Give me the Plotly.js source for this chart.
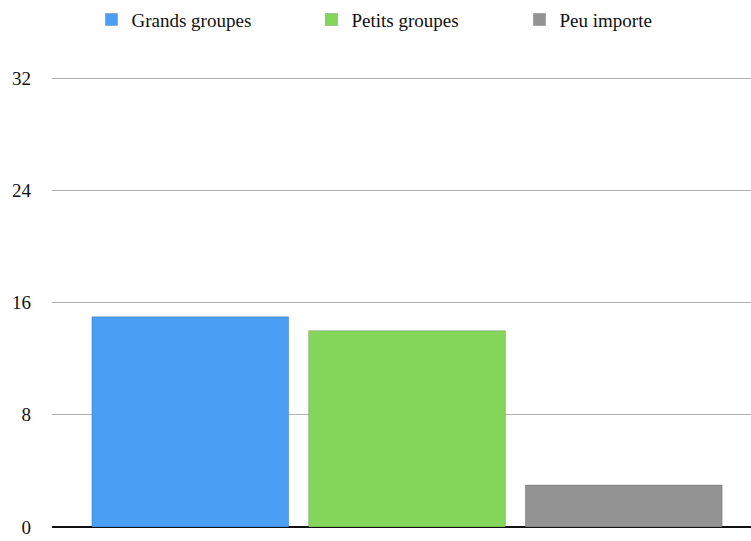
<!DOCTYPE html>
<html>
<head>
<meta charset="utf-8">
<script src="https://cdn.plot.ly/plotly-3.0.1.min.js"></script>
<style>html,body{margin:0;padding:0;background:#fff;}#chart{width:751px;height:541px;}</style>
</head>
<body>
<div id="chart"></div>
<script>
const seriesNames = ["Grands groupes", "Petits groupes", "Peu importe"];
const seriesValues = [15, 14, 3];
const seriesColors = ["#4a9ff5", "#84d65a", "#939393"];
const yTicks = [0, 8, 16, 24, 32];

const legendIds = ["legend", "legend2", "legend3"];
const legendX = [0.0565, 0.3712, 0.6688];

const traces = seriesNames.map((name, i) => ({
  type: "bar",
  name: name,
  x: [0],
  y: [seriesValues[i]],
  legend: legendIds[i],
  marker: {color: seriesColors[i], line: {color: "rgba(0,0,0,0.18)", width: 1}},
  hoverinfo: "none"
}));

const serif = "Liberation Serif";
const legendFont = {family: serif, size: 19, color: "#111"};
const layout = {
  width: 751, height: 541,
  margin: {l: 52, r: 0, t: 74, b: 14},
  paper_bgcolor: "#fff", plot_bgcolor: "#fff",
  font: {family: serif, size: 19, color: "#111"},
  barmode: "group",
  bargap: 0,
  bargroupgap: 0.092,
  showlegend: true,
  xaxis: {range: [-0.546, 0.529], showticklabels: false, showgrid: false, zeroline: false, showline: false, fixedrange: true},
  yaxis: {range: [0, 32.3], tickvals: yTicks, ticktext: yTicks.map(String), showgrid: true, gridcolor: "#b3b3b3", gridwidth: 1,
          zeroline: true, zerolinecolor: "#111", zerolinewidth: 2, showline: false, ticks: "", ticklabelstandoff: 20,
          tickfont: {family: serif, size: 19, color: "#111"}, fixedrange: true}
};
legendIds.forEach((id, i) => {
  layout[id] = {orientation: "h", x: legendX[i], xanchor: "left", y: 1.12, yanchor: "middle",
                font: legendFont, itemclick: false, bgcolor: "rgba(0,0,0,0)"};
});

Plotly.newPlot("chart", traces, layout, {displayModeBar: false, staticPlot: true});
</script>
</body>
</html>
